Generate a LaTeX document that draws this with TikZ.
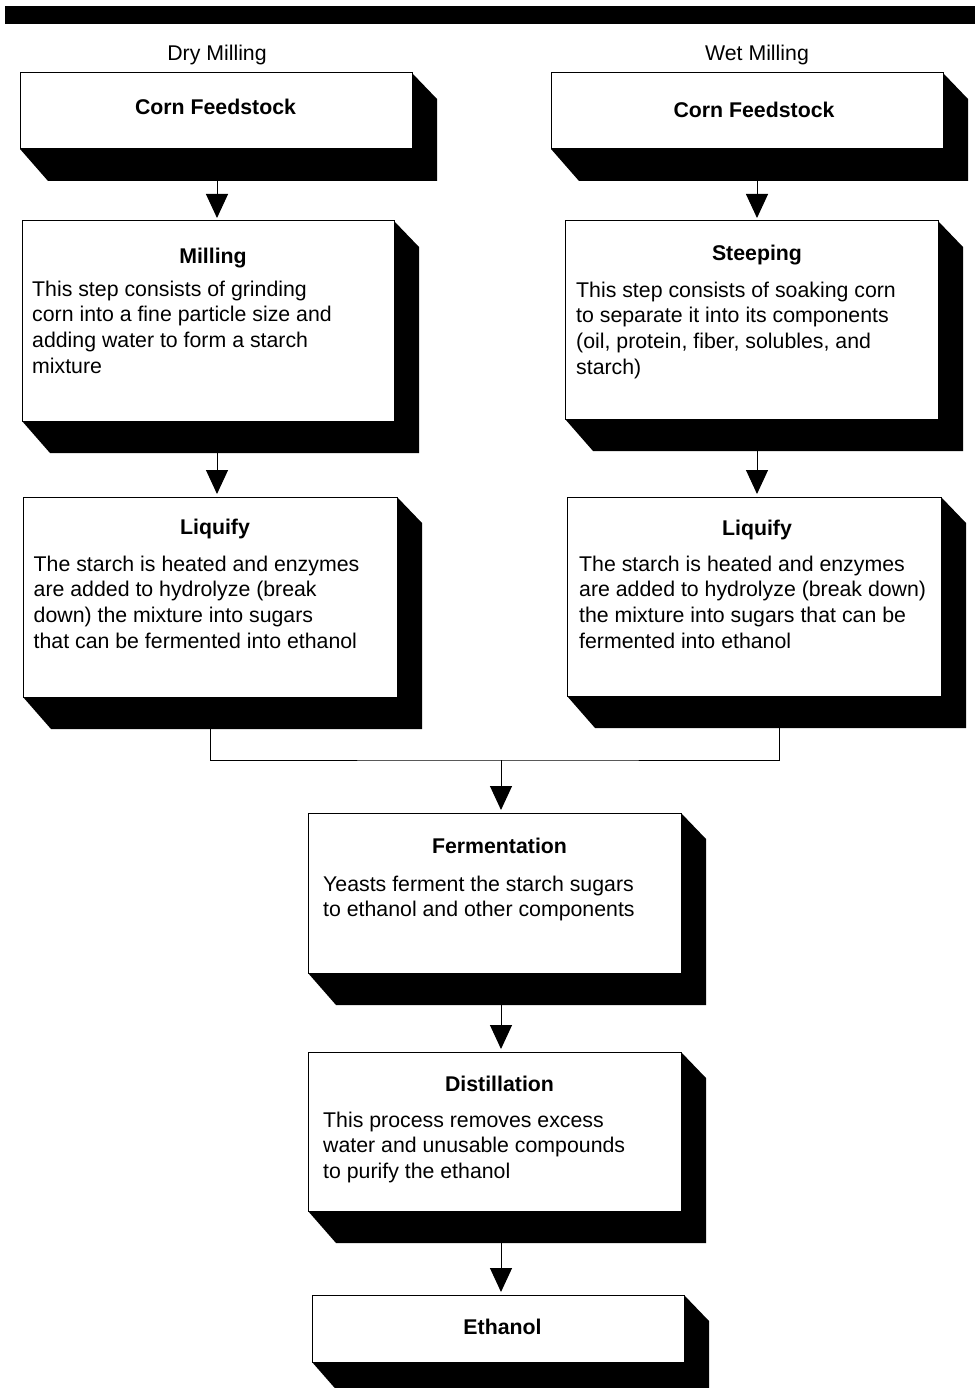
\documentclass[tikz,border=0pt]{standalone}
\usepackage{fontspec}
\setmainfont{Liberation Sans}
\usetikzlibrary{arrows.meta,calc}
\newcommand\shbox[5]{%
  \fill[black] (#4,#3) -- (#4+25,#3+26) -- (#4+25,#5+32) -- (#2+28,#5+32) -- (#2,#5) -- cycle;
  \node[box, minimum width={(#4-#2)*1pt}, minimum height={(#5-#3)*1pt}] (#1) at (#2,#3) {};
}
\begin{document}
\begin{tikzpicture}[x=1pt,y=-1pt,
  box/.style={draw=black, line width=1pt, fill=white, inner sep=0pt, outer sep=0pt, anchor=north west},
  ttl/.style={font=\fontsize{21.3}{26}\selectfont\bfseries, inner sep=0pt, anchor=base},
  lbl/.style={font=\fontsize{21.3}{26}\selectfont, inner sep=0pt, anchor=base},
  body/.style={font=\fontsize{21.3}{25.8}\selectfont, inner sep=0pt, anchor=base west},
  arr/.style={line width=1pt, -{Triangle[width=22pt,length=24pt]}, shorten >=3pt},
  con/.style={line width=1pt}]
\useasboundingbox (0,0) rectangle (975,1388);
\fill[white] (0,0) rectangle (975,1388);
% top bar
\fill[black] (5,6) rectangle (975,24);
% column labels
\node[lbl] (dlab) at (217,61) {Dry Milling};
\node[lbl] (wlab) at (757,61) {Wet Milling};
% boxes
\shbox{dcf}{20}{73}{412}{149}
\shbox{wcf}{551}{73}{943}{149}
\shbox{mill}{22}{221}{394}{421}
\shbox{steep}{565}{221}{938}{419}
\shbox{liqd}{23}{497}{397}{697}
\shbox{liqw}{567}{497}{941}{696}
\shbox{ferm}{308}{813}{681}{973}
\shbox{dist}{308}{1052}{681}{1211}
\shbox{eth}{312}{1295}{684}{1362}
% titles
\node[ttl] (t1) at (215.5,115) {Corn Feedstock};
\node[ttl] (t2) at (754,118) {Corn Feedstock};
\node[ttl] (t3) at (213,263) {Milling};
\node[ttl] (t4) at (757,261) {Steeping};
\node[ttl] (t5) at (215,534) {Liquify};
\node[ttl] (t6) at (757,535) {Liquify};
\node[ttl] (t7) at (499.5,853) {Fermentation};
\node[ttl] (t8) at (499.5,1091) {Distillation};
\node[ttl] (t9) at (502.5,1334) {Ethanol};
% bodies
\node[body] (b3) at (32,296) {\vtop{\hbox{This step consists of grinding}\hbox{corn into a fine particle size and}\hbox{adding water to form a starch}\hbox{mixture}}};
\node[body] (b4) at (576,297) {\vtop{\hbox{This step consists of soaking corn}\hbox{to separate it into its components}\hbox{(oil, protein, fiber, solubles, and}\hbox{starch)}}};
\node[body] (b5) at (33.5,571) {\vtop{\hbox{The starch is heated and enzymes}\hbox{are added to hydrolyze (break}\hbox{down) the mixture into sugars}\hbox{that can be fermented into ethanol}}};
\node[body] (b6) at (579,571) {\vtop{\hbox{The starch is heated and enzymes}\hbox{are added to hydrolyze (break down)}\hbox{the mixture into sugars that can be}\hbox{fermented into ethanol}}};
\node[body] (b7) at (323,891) {\vtop{\hbox{Yeasts ferment the starch sugars}\hbox{to ethanol and other components}}};
\node[body] (b8) at (323,1127) {\vtop{\hbox{This process removes excess}\hbox{water and unusable compounds}\hbox{to purify the ethanol}}};
% connectors
\draw[arr] (dcf.south -| dlab) -- (mill.north -| dlab);
\draw[arr] (wcf.south -| wlab) -- (steep.north -| wlab);
\draw[arr] (mill.south -| dlab) -- (liqd.north -| dlab);
\draw[arr] (steep.south -| wlab) -- (liqw.north -| wlab);
\coordinate (j) at (501,760);
\coordinate (wr) at ($(liqw.south)+(25,0)$);
\draw[con] (liqd.south) |- (j) -| (wr);
\draw[arr] (j) -- (j |- ferm.north);
\draw[arr] (ferm.south -| j) -- (dist.north -| j);
\draw[arr] (dist.south -| j) -- (eth.north -| j);
% redraw shadows/boxes edges on top of line starts
\end{tikzpicture}
\end{document}
